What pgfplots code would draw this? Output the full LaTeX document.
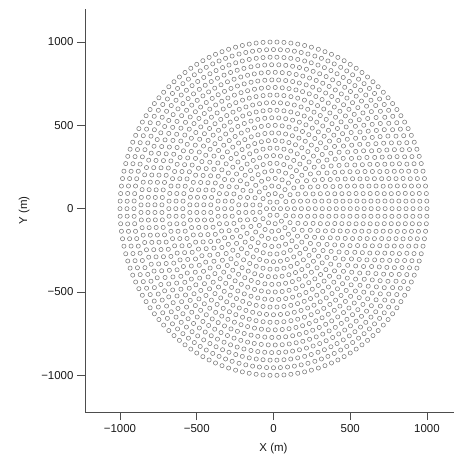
\documentclass[border=0pt]{standalone}
\usepackage{pgfplots}
\pgfplotsset{compat=1.18}
\usepackage{fontspec}
\setmainfont{Liberation Sans}
\definecolor{axgray}{HTML}{4D4D4D}
\definecolor{ptgray}{HTML}{7A7A7A}
\begin{document}
\begin{tikzpicture}
\begin{axis}[
  name=ax,
  scale only axis, width=369bp, height=403bp,
  xmin=-1228, xmax=1176, ymin=-1220, ymax=1198,
  axis x line*=bottom, axis y line*=left,
  axis line style={-, draw=axgray, line width=0.9pt},
  tick align=outside, major tick length=8bp,
  tick style={draw=axgray, line width=0.9pt},
  xtick={-1000,-500,0,500,1000}, xticklabels={−1000,−500,0,500,1000},
  ytick={-1000,-500,0,500,1000}, yticklabels={−1000,−500,0,500,1000},
  ticklabel style={font=\fontsize{11.5}{13}\selectfont, text=black!90},
  xticklabel style={yshift=-1bp},
  xlabel={X (m)}, ylabel={Y (m)},
  label style={font=\fontsize{11.5}{13}\selectfont, text=black!90},
  xlabel style={at={(axis cs:0,-1220)}, anchor=north, inner sep=0pt, yshift=-31bp},
  ylabel style={yshift=5bp},
  pts/.style={only marks, data cs=polar, mark=o, mark size=2.1pt, mark options={draw=ptgray, line width=0.55pt}},
]
\addplot[pts] coordinates {(0,0)};
\addplot[pts] coordinates {(0,45.5)(60,45.5)(120,45.5)(180,45.5)(240,45.5)(300,45.5)};
\addplot[pts] coordinates {(0,90.9)(27.7,90.9)(55.4,90.9)(83.1,90.9)(110.8,90.9)(138.5,90.9)(166.2,90.9)(193.8,90.9)(221.5,90.9)(249.2,90.9)(276.9,90.9)(304.6,90.9)(332.3,90.9)};
\addplot[pts] coordinates {(0,136.4)(18.9,136.4)(37.9,136.4)(56.8,136.4)(75.8,136.4)(94.7,136.4)(113.7,136.4)(132.6,136.4)(151.6,136.4)(170.5,136.4)(189.5,136.4)(208.4,136.4)(227.4,136.4)(246.3,136.4)(265.3,136.4)(284.2,136.4)(303.2,136.4)(322.1,136.4)(341.1,136.4)};
\addplot[pts] coordinates {(0,181.8)(14.4,181.8)(28.8,181.8)(43.2,181.8)(57.6,181.8)(72,181.8)(86.4,181.8)(100.8,181.8)(115.2,181.8)(129.6,181.8)(144,181.8)(158.4,181.8)(172.8,181.8)(187.2,181.8)(201.6,181.8)(216,181.8)(230.4,181.8)(244.8,181.8)(259.2,181.8)(273.6,181.8)(288,181.8)(302.4,181.8)(316.8,181.8)(331.2,181.8)(345.6,181.8)};
\addplot[pts] coordinates {(0,227.3)(11.6,227.3)(23.2,227.3)(34.8,227.3)(46.5,227.3)(58.1,227.3)(69.7,227.3)(81.3,227.3)(92.9,227.3)(104.5,227.3)(116.1,227.3)(127.7,227.3)(139.4,227.3)(151,227.3)(162.6,227.3)(174.2,227.3)(185.8,227.3)(197.4,227.3)(209,227.3)(220.6,227.3)(232.3,227.3)(243.9,227.3)(255.5,227.3)(267.1,227.3)(278.7,227.3)(290.3,227.3)(301.9,227.3)(313.5,227.3)(325.2,227.3)(336.8,227.3)(348.4,227.3)};
\addplot[pts] coordinates {(0,272.7)(9.5,272.7)(18.9,272.7)(28.4,272.7)(37.9,272.7)(47.4,272.7)(56.8,272.7)(66.3,272.7)(75.8,272.7)(85.3,272.7)(94.7,272.7)(104.2,272.7)(113.7,272.7)(123.2,272.7)(132.6,272.7)(142.1,272.7)(151.6,272.7)(161.1,272.7)(170.5,272.7)(180,272.7)(189.5,272.7)(198.9,272.7)(208.4,272.7)(217.9,272.7)(227.4,272.7)(236.8,272.7)(246.3,272.7)(255.8,272.7)(265.3,272.7)(274.7,272.7)(284.2,272.7)(293.7,272.7)(303.2,272.7)(312.6,272.7)(322.1,272.7)(331.6,272.7)(341.1,272.7)(350.5,272.7)};
\addplot[pts] coordinates {(0,318.2)(8.2,318.2)(16.4,318.2)(24.5,318.2)(32.7,318.2)(40.9,318.2)(49.1,318.2)(57.3,318.2)(65.5,318.2)(73.6,318.2)(81.8,318.2)(90,318.2)(98.2,318.2)(106.4,318.2)(114.5,318.2)(122.7,318.2)(130.9,318.2)(139.1,318.2)(147.3,318.2)(155.5,318.2)(163.6,318.2)(171.8,318.2)(180,318.2)(188.2,318.2)(196.4,318.2)(204.5,318.2)(212.7,318.2)(220.9,318.2)(229.1,318.2)(237.3,318.2)(245.5,318.2)(253.6,318.2)(261.8,318.2)(270,318.2)(278.2,318.2)(286.4,318.2)(294.5,318.2)(302.7,318.2)(310.9,318.2)(319.1,318.2)(327.3,318.2)(335.5,318.2)(343.6,318.2)(351.8,318.2)};
\addplot[pts] coordinates {(0,363.6)(7.2,363.6)(14.4,363.6)(21.6,363.6)(28.8,363.6)(36,363.6)(43.2,363.6)(50.4,363.6)(57.6,363.6)(64.8,363.6)(72,363.6)(79.2,363.6)(86.4,363.6)(93.6,363.6)(100.8,363.6)(108,363.6)(115.2,363.6)(122.4,363.6)(129.6,363.6)(136.8,363.6)(144,363.6)(151.2,363.6)(158.4,363.6)(165.6,363.6)(172.8,363.6)(180,363.6)(187.2,363.6)(194.4,363.6)(201.6,363.6)(208.8,363.6)(216,363.6)(223.2,363.6)(230.4,363.6)(237.6,363.6)(244.8,363.6)(252,363.6)(259.2,363.6)(266.4,363.6)(273.6,363.6)(280.8,363.6)(288,363.6)(295.2,363.6)(302.4,363.6)(309.6,363.6)(316.8,363.6)(324,363.6)(331.2,363.6)(338.4,363.6)(345.6,363.6)(352.8,363.6)};
\addplot[pts] coordinates {(0,409.1)(6.3,409.1)(12.6,409.1)(18.9,409.1)(25.3,409.1)(31.6,409.1)(37.9,409.1)(44.2,409.1)(50.5,409.1)(56.8,409.1)(63.2,409.1)(69.5,409.1)(75.8,409.1)(82.1,409.1)(88.4,409.1)(94.7,409.1)(101.1,409.1)(107.4,409.1)(113.7,409.1)(120,409.1)(126.3,409.1)(132.6,409.1)(138.9,409.1)(145.3,409.1)(151.6,409.1)(157.9,409.1)(164.2,409.1)(170.5,409.1)(176.8,409.1)(183.2,409.1)(189.5,409.1)(195.8,409.1)(202.1,409.1)(208.4,409.1)(214.7,409.1)(221.1,409.1)(227.4,409.1)(233.7,409.1)(240,409.1)(246.3,409.1)(252.6,409.1)(258.9,409.1)(265.3,409.1)(271.6,409.1)(277.9,409.1)(284.2,409.1)(290.5,409.1)(296.8,409.1)(303.2,409.1)(309.5,409.1)(315.8,409.1)(322.1,409.1)(328.4,409.1)(334.7,409.1)(341.1,409.1)(347.4,409.1)(353.7,409.1)};
\addplot[pts] coordinates {(0,454.5)(5.7,454.5)(11.4,454.5)(17.1,454.5)(22.9,454.5)(28.6,454.5)(34.3,454.5)(40,454.5)(45.7,454.5)(51.4,454.5)(57.1,454.5)(62.9,454.5)(68.6,454.5)(74.3,454.5)(80,454.5)(85.7,454.5)(91.4,454.5)(97.1,454.5)(102.9,454.5)(108.6,454.5)(114.3,454.5)(120,454.5)(125.7,454.5)(131.4,454.5)(137.1,454.5)(142.9,454.5)(148.6,454.5)(154.3,454.5)(160,454.5)(165.7,454.5)(171.4,454.5)(177.1,454.5)(182.9,454.5)(188.6,454.5)(194.3,454.5)(200,454.5)(205.7,454.5)(211.4,454.5)(217.1,454.5)(222.9,454.5)(228.6,454.5)(234.3,454.5)(240,454.5)(245.7,454.5)(251.4,454.5)(257.1,454.5)(262.9,454.5)(268.6,454.5)(274.3,454.5)(280,454.5)(285.7,454.5)(291.4,454.5)(297.1,454.5)(302.9,454.5)(308.6,454.5)(314.3,454.5)(320,454.5)(325.7,454.5)(331.4,454.5)(337.1,454.5)(342.9,454.5)(348.6,454.5)(354.3,454.5)};
\addplot[pts] coordinates {(0,500)(5.2,500)(10.4,500)(15.7,500)(20.9,500)(26.1,500)(31.3,500)(36.5,500)(41.7,500)(47,500)(52.2,500)(57.4,500)(62.6,500)(67.8,500)(73,500)(78.3,500)(83.5,500)(88.7,500)(93.9,500)(99.1,500)(104.3,500)(109.6,500)(114.8,500)(120,500)(125.2,500)(130.4,500)(135.7,500)(140.9,500)(146.1,500)(151.3,500)(156.5,500)(161.7,500)(167,500)(172.2,500)(177.4,500)(182.6,500)(187.8,500)(193,500)(198.3,500)(203.5,500)(208.7,500)(213.9,500)(219.1,500)(224.3,500)(229.6,500)(234.8,500)(240,500)(245.2,500)(250.4,500)(255.7,500)(260.9,500)(266.1,500)(271.3,500)(276.5,500)(281.7,500)(287,500)(292.2,500)(297.4,500)(302.6,500)(307.8,500)(313,500)(318.3,500)(323.5,500)(328.7,500)(333.9,500)(339.1,500)(344.3,500)(349.6,500)(354.8,500)};
\addplot[pts] coordinates {(0,545.5)(4.8,545.5)(9.6,545.5)(14.4,545.5)(19.2,545.5)(24,545.5)(28.8,545.5)(33.6,545.5)(38.4,545.5)(43.2,545.5)(48,545.5)(52.8,545.5)(57.6,545.5)(62.4,545.5)(67.2,545.5)(72,545.5)(76.8,545.5)(81.6,545.5)(86.4,545.5)(91.2,545.5)(96,545.5)(100.8,545.5)(105.6,545.5)(110.4,545.5)(115.2,545.5)(120,545.5)(124.8,545.5)(129.6,545.5)(134.4,545.5)(139.2,545.5)(144,545.5)(148.8,545.5)(153.6,545.5)(158.4,545.5)(163.2,545.5)(168,545.5)(172.8,545.5)(177.6,545.5)(182.4,545.5)(187.2,545.5)(192,545.5)(196.8,545.5)(201.6,545.5)(206.4,545.5)(211.2,545.5)(216,545.5)(220.8,545.5)(225.6,545.5)(230.4,545.5)(235.2,545.5)(240,545.5)(244.8,545.5)(249.6,545.5)(254.4,545.5)(259.2,545.5)(264,545.5)(268.8,545.5)(273.6,545.5)(278.4,545.5)(283.2,545.5)(288,545.5)(292.8,545.5)(297.6,545.5)(302.4,545.5)(307.2,545.5)(312,545.5)(316.8,545.5)(321.6,545.5)(326.4,545.5)(331.2,545.5)(336,545.5)(340.8,545.5)(345.6,545.5)(350.4,545.5)(355.2,545.5)};
\addplot[pts] coordinates {(0,590.9)(4.4,590.9)(8.8,590.9)(13.2,590.9)(17.6,590.9)(22,590.9)(26.3,590.9)(30.7,590.9)(35.1,590.9)(39.5,590.9)(43.9,590.9)(48.3,590.9)(52.7,590.9)(57.1,590.9)(61.5,590.9)(65.9,590.9)(70.2,590.9)(74.6,590.9)(79,590.9)(83.4,590.9)(87.8,590.9)(92.2,590.9)(96.6,590.9)(101,590.9)(105.4,590.9)(109.8,590.9)(114.1,590.9)(118.5,590.9)(122.9,590.9)(127.3,590.9)(131.7,590.9)(136.1,590.9)(140.5,590.9)(144.9,590.9)(149.3,590.9)(153.7,590.9)(158,590.9)(162.4,590.9)(166.8,590.9)(171.2,590.9)(175.6,590.9)(180,590.9)(184.4,590.9)(188.8,590.9)(193.2,590.9)(197.6,590.9)(202,590.9)(206.3,590.9)(210.7,590.9)(215.1,590.9)(219.5,590.9)(223.9,590.9)(228.3,590.9)(232.7,590.9)(237.1,590.9)(241.5,590.9)(245.9,590.9)(250.2,590.9)(254.6,590.9)(259,590.9)(263.4,590.9)(267.8,590.9)(272.2,590.9)(276.6,590.9)(281,590.9)(285.4,590.9)(289.8,590.9)(294.1,590.9)(298.5,590.9)(302.9,590.9)(307.3,590.9)(311.7,590.9)(316.1,590.9)(320.5,590.9)(324.9,590.9)(329.3,590.9)(333.7,590.9)(338,590.9)(342.4,590.9)(346.8,590.9)(351.2,590.9)(355.6,590.9)};
\addplot[pts] coordinates {(0,636.4)(4.1,636.4)(8.2,636.4)(12.3,636.4)(16.4,636.4)(20.5,636.4)(24.5,636.4)(28.6,636.4)(32.7,636.4)(36.8,636.4)(40.9,636.4)(45,636.4)(49.1,636.4)(53.2,636.4)(57.3,636.4)(61.4,636.4)(65.5,636.4)(69.5,636.4)(73.6,636.4)(77.7,636.4)(81.8,636.4)(85.9,636.4)(90,636.4)(94.1,636.4)(98.2,636.4)(102.3,636.4)(106.4,636.4)(110.5,636.4)(114.5,636.4)(118.6,636.4)(122.7,636.4)(126.8,636.4)(130.9,636.4)(135,636.4)(139.1,636.4)(143.2,636.4)(147.3,636.4)(151.4,636.4)(155.5,636.4)(159.5,636.4)(163.6,636.4)(167.7,636.4)(171.8,636.4)(175.9,636.4)(180,636.4)(184.1,636.4)(188.2,636.4)(192.3,636.4)(196.4,636.4)(200.5,636.4)(204.5,636.4)(208.6,636.4)(212.7,636.4)(216.8,636.4)(220.9,636.4)(225,636.4)(229.1,636.4)(233.2,636.4)(237.3,636.4)(241.4,636.4)(245.5,636.4)(249.5,636.4)(253.6,636.4)(257.7,636.4)(261.8,636.4)(265.9,636.4)(270,636.4)(274.1,636.4)(278.2,636.4)(282.3,636.4)(286.4,636.4)(290.5,636.4)(294.5,636.4)(298.6,636.4)(302.7,636.4)(306.8,636.4)(310.9,636.4)(315,636.4)(319.1,636.4)(323.2,636.4)(327.3,636.4)(331.4,636.4)(335.5,636.4)(339.5,636.4)(343.6,636.4)(347.7,636.4)(351.8,636.4)(355.9,636.4)};
\addplot[pts] coordinates {(0,681.8)(3.8,681.8)(7.7,681.8)(11.5,681.8)(15.3,681.8)(19.1,681.8)(23,681.8)(26.8,681.8)(30.6,681.8)(34.5,681.8)(38.3,681.8)(42.1,681.8)(46,681.8)(49.8,681.8)(53.6,681.8)(57.4,681.8)(61.3,681.8)(65.1,681.8)(68.9,681.8)(72.8,681.8)(76.6,681.8)(80.4,681.8)(84.3,681.8)(88.1,681.8)(91.9,681.8)(95.7,681.8)(99.6,681.8)(103.4,681.8)(107.2,681.8)(111.1,681.8)(114.9,681.8)(118.7,681.8)(122.6,681.8)(126.4,681.8)(130.2,681.8)(134,681.8)(137.9,681.8)(141.7,681.8)(145.5,681.8)(149.4,681.8)(153.2,681.8)(157,681.8)(160.9,681.8)(164.7,681.8)(168.5,681.8)(172.3,681.8)(176.2,681.8)(180,681.8)(183.8,681.8)(187.7,681.8)(191.5,681.8)(195.3,681.8)(199.1,681.8)(203,681.8)(206.8,681.8)(210.6,681.8)(214.5,681.8)(218.3,681.8)(222.1,681.8)(226,681.8)(229.8,681.8)(233.6,681.8)(237.4,681.8)(241.3,681.8)(245.1,681.8)(248.9,681.8)(252.8,681.8)(256.6,681.8)(260.4,681.8)(264.3,681.8)(268.1,681.8)(271.9,681.8)(275.7,681.8)(279.6,681.8)(283.4,681.8)(287.2,681.8)(291.1,681.8)(294.9,681.8)(298.7,681.8)(302.6,681.8)(306.4,681.8)(310.2,681.8)(314,681.8)(317.9,681.8)(321.7,681.8)(325.5,681.8)(329.4,681.8)(333.2,681.8)(337,681.8)(340.9,681.8)(344.7,681.8)(348.5,681.8)(352.3,681.8)(356.2,681.8)};
\addplot[pts] coordinates {(0,727.3)(3.6,727.3)(7.1,727.3)(10.7,727.3)(14.3,727.3)(17.8,727.3)(21.4,727.3)(25,727.3)(28.5,727.3)(32.1,727.3)(35.6,727.3)(39.2,727.3)(42.8,727.3)(46.3,727.3)(49.9,727.3)(53.5,727.3)(57,727.3)(60.6,727.3)(64.2,727.3)(67.7,727.3)(71.3,727.3)(74.9,727.3)(78.4,727.3)(82,727.3)(85.5,727.3)(89.1,727.3)(92.7,727.3)(96.2,727.3)(99.8,727.3)(103.4,727.3)(106.9,727.3)(110.5,727.3)(114.1,727.3)(117.6,727.3)(121.2,727.3)(124.8,727.3)(128.3,727.3)(131.9,727.3)(135.4,727.3)(139,727.3)(142.6,727.3)(146.1,727.3)(149.7,727.3)(153.3,727.3)(156.8,727.3)(160.4,727.3)(164,727.3)(167.5,727.3)(171.1,727.3)(174.7,727.3)(178.2,727.3)(181.8,727.3)(185.3,727.3)(188.9,727.3)(192.5,727.3)(196,727.3)(199.6,727.3)(203.2,727.3)(206.7,727.3)(210.3,727.3)(213.9,727.3)(217.4,727.3)(221,727.3)(224.6,727.3)(228.1,727.3)(231.7,727.3)(235.2,727.3)(238.8,727.3)(242.4,727.3)(245.9,727.3)(249.5,727.3)(253.1,727.3)(256.6,727.3)(260.2,727.3)(263.8,727.3)(267.3,727.3)(270.9,727.3)(274.5,727.3)(278,727.3)(281.6,727.3)(285.1,727.3)(288.7,727.3)(292.3,727.3)(295.8,727.3)(299.4,727.3)(303,727.3)(306.5,727.3)(310.1,727.3)(313.7,727.3)(317.2,727.3)(320.8,727.3)(324.4,727.3)(327.9,727.3)(331.5,727.3)(335,727.3)(338.6,727.3)(342.2,727.3)(345.7,727.3)(349.3,727.3)(352.9,727.3)(356.4,727.3)};
\addplot[pts] coordinates {(0,772.7)(3.4,772.7)(6.7,772.7)(10.1,772.7)(13.5,772.7)(16.8,772.7)(20.2,772.7)(23.6,772.7)(26.9,772.7)(30.3,772.7)(33.6,772.7)(37,772.7)(40.4,772.7)(43.7,772.7)(47.1,772.7)(50.5,772.7)(53.8,772.7)(57.2,772.7)(60.6,772.7)(63.9,772.7)(67.3,772.7)(70.7,772.7)(74,772.7)(77.4,772.7)(80.7,772.7)(84.1,772.7)(87.5,772.7)(90.8,772.7)(94.2,772.7)(97.6,772.7)(100.9,772.7)(104.3,772.7)(107.7,772.7)(111,772.7)(114.4,772.7)(117.8,772.7)(121.1,772.7)(124.5,772.7)(127.9,772.7)(131.2,772.7)(134.6,772.7)(137.9,772.7)(141.3,772.7)(144.7,772.7)(148,772.7)(151.4,772.7)(154.8,772.7)(158.1,772.7)(161.5,772.7)(164.9,772.7)(168.2,772.7)(171.6,772.7)(175,772.7)(178.3,772.7)(181.7,772.7)(185,772.7)(188.4,772.7)(191.8,772.7)(195.1,772.7)(198.5,772.7)(201.9,772.7)(205.2,772.7)(208.6,772.7)(212,772.7)(215.3,772.7)(218.7,772.7)(222.1,772.7)(225.4,772.7)(228.8,772.7)(232.1,772.7)(235.5,772.7)(238.9,772.7)(242.2,772.7)(245.6,772.7)(249,772.7)(252.3,772.7)(255.7,772.7)(259.1,772.7)(262.4,772.7)(265.8,772.7)(269.2,772.7)(272.5,772.7)(275.9,772.7)(279.3,772.7)(282.6,772.7)(286,772.7)(289.3,772.7)(292.7,772.7)(296.1,772.7)(299.4,772.7)(302.8,772.7)(306.2,772.7)(309.5,772.7)(312.9,772.7)(316.3,772.7)(319.6,772.7)(323,772.7)(326.4,772.7)(329.7,772.7)(333.1,772.7)(336.4,772.7)(339.8,772.7)(343.2,772.7)(346.5,772.7)(349.9,772.7)(353.3,772.7)(356.6,772.7)};
\addplot[pts] coordinates {(0,818.2)(3.2,818.2)(6.4,818.2)(9.6,818.2)(12.7,818.2)(15.9,818.2)(19.1,818.2)(22.3,818.2)(25.5,818.2)(28.7,818.2)(31.9,818.2)(35,818.2)(38.2,818.2)(41.4,818.2)(44.6,818.2)(47.8,818.2)(51,818.2)(54.2,818.2)(57.3,818.2)(60.5,818.2)(63.7,818.2)(66.9,818.2)(70.1,818.2)(73.3,818.2)(76.5,818.2)(79.6,818.2)(82.8,818.2)(86,818.2)(89.2,818.2)(92.4,818.2)(95.6,818.2)(98.8,818.2)(101.9,818.2)(105.1,818.2)(108.3,818.2)(111.5,818.2)(114.7,818.2)(117.9,818.2)(121.1,818.2)(124.2,818.2)(127.4,818.2)(130.6,818.2)(133.8,818.2)(137,818.2)(140.2,818.2)(143.4,818.2)(146.5,818.2)(149.7,818.2)(152.9,818.2)(156.1,818.2)(159.3,818.2)(162.5,818.2)(165.7,818.2)(168.8,818.2)(172,818.2)(175.2,818.2)(178.4,818.2)(181.6,818.2)(184.8,818.2)(188,818.2)(191.2,818.2)(194.3,818.2)(197.5,818.2)(200.7,818.2)(203.9,818.2)(207.1,818.2)(210.3,818.2)(213.5,818.2)(216.6,818.2)(219.8,818.2)(223,818.2)(226.2,818.2)(229.4,818.2)(232.6,818.2)(235.8,818.2)(238.9,818.2)(242.1,818.2)(245.3,818.2)(248.5,818.2)(251.7,818.2)(254.9,818.2)(258.1,818.2)(261.2,818.2)(264.4,818.2)(267.6,818.2)(270.8,818.2)(274,818.2)(277.2,818.2)(280.4,818.2)(283.5,818.2)(286.7,818.2)(289.9,818.2)(293.1,818.2)(296.3,818.2)(299.5,818.2)(302.7,818.2)(305.8,818.2)(309,818.2)(312.2,818.2)(315.4,818.2)(318.6,818.2)(321.8,818.2)(325,818.2)(328.1,818.2)(331.3,818.2)(334.5,818.2)(337.7,818.2)(340.9,818.2)(344.1,818.2)(347.3,818.2)(350.4,818.2)(353.6,818.2)(356.8,818.2)};
\addplot[pts] coordinates {(0,863.6)(3,863.6)(6.1,863.6)(9.1,863.6)(12.1,863.6)(15.1,863.6)(18.2,863.6)(21.2,863.6)(24.2,863.6)(27.2,863.6)(30.3,863.6)(33.3,863.6)(36.3,863.6)(39.3,863.6)(42.4,863.6)(45.4,863.6)(48.4,863.6)(51.4,863.6)(54.5,863.6)(57.5,863.6)(60.5,863.6)(63.5,863.6)(66.6,863.6)(69.6,863.6)(72.6,863.6)(75.6,863.6)(78.7,863.6)(81.7,863.6)(84.7,863.6)(87.7,863.6)(90.8,863.6)(93.8,863.6)(96.8,863.6)(99.8,863.6)(102.9,863.6)(105.9,863.6)(108.9,863.6)(111.9,863.6)(115,863.6)(118,863.6)(121,863.6)(124,863.6)(127.1,863.6)(130.1,863.6)(133.1,863.6)(136.1,863.6)(139.2,863.6)(142.2,863.6)(145.2,863.6)(148.2,863.6)(151.3,863.6)(154.3,863.6)(157.3,863.6)(160.3,863.6)(163.4,863.6)(166.4,863.6)(169.4,863.6)(172.4,863.6)(175.5,863.6)(178.5,863.6)(181.5,863.6)(184.5,863.6)(187.6,863.6)(190.6,863.6)(193.6,863.6)(196.6,863.6)(199.7,863.6)(202.7,863.6)(205.7,863.6)(208.7,863.6)(211.8,863.6)(214.8,863.6)(217.8,863.6)(220.8,863.6)(223.9,863.6)(226.9,863.6)(229.9,863.6)(232.9,863.6)(236,863.6)(239,863.6)(242,863.6)(245,863.6)(248.1,863.6)(251.1,863.6)(254.1,863.6)(257.1,863.6)(260.2,863.6)(263.2,863.6)(266.2,863.6)(269.2,863.6)(272.3,863.6)(275.3,863.6)(278.3,863.6)(281.3,863.6)(284.4,863.6)(287.4,863.6)(290.4,863.6)(293.4,863.6)(296.5,863.6)(299.5,863.6)(302.5,863.6)(305.5,863.6)(308.6,863.6)(311.6,863.6)(314.6,863.6)(317.6,863.6)(320.7,863.6)(323.7,863.6)(326.7,863.6)(329.7,863.6)(332.8,863.6)(335.8,863.6)(338.8,863.6)(341.8,863.6)(344.9,863.6)(347.9,863.6)(350.9,863.6)(354,863.6)(357,863.6)};
\addplot[pts] coordinates {(0,909.1)(2.9,909.1)(5.7,909.1)(8.6,909.1)(11.4,909.1)(14.3,909.1)(17.1,909.1)(20,909.1)(22.9,909.1)(25.7,909.1)(28.6,909.1)(31.4,909.1)(34.3,909.1)(37.1,909.1)(40,909.1)(42.9,909.1)(45.7,909.1)(48.6,909.1)(51.4,909.1)(54.3,909.1)(57.1,909.1)(60,909.1)(62.9,909.1)(65.7,909.1)(68.6,909.1)(71.4,909.1)(74.3,909.1)(77.1,909.1)(80,909.1)(82.9,909.1)(85.7,909.1)(88.6,909.1)(91.4,909.1)(94.3,909.1)(97.1,909.1)(100,909.1)(102.9,909.1)(105.7,909.1)(108.6,909.1)(111.4,909.1)(114.3,909.1)(117.1,909.1)(120,909.1)(122.9,909.1)(125.7,909.1)(128.6,909.1)(131.4,909.1)(134.3,909.1)(137.1,909.1)(140,909.1)(142.9,909.1)(145.7,909.1)(148.6,909.1)(151.4,909.1)(154.3,909.1)(157.1,909.1)(160,909.1)(162.9,909.1)(165.7,909.1)(168.6,909.1)(171.4,909.1)(174.3,909.1)(177.1,909.1)(180,909.1)(182.9,909.1)(185.7,909.1)(188.6,909.1)(191.4,909.1)(194.3,909.1)(197.1,909.1)(200,909.1)(202.9,909.1)(205.7,909.1)(208.6,909.1)(211.4,909.1)(214.3,909.1)(217.1,909.1)(220,909.1)(222.9,909.1)(225.7,909.1)(228.6,909.1)(231.4,909.1)(234.3,909.1)(237.1,909.1)(240,909.1)(242.9,909.1)(245.7,909.1)(248.6,909.1)(251.4,909.1)(254.3,909.1)(257.1,909.1)(260,909.1)(262.9,909.1)(265.7,909.1)(268.6,909.1)(271.4,909.1)(274.3,909.1)(277.1,909.1)(280,909.1)(282.9,909.1)(285.7,909.1)(288.6,909.1)(291.4,909.1)(294.3,909.1)(297.1,909.1)(300,909.1)(302.9,909.1)(305.7,909.1)(308.6,909.1)(311.4,909.1)(314.3,909.1)(317.1,909.1)(320,909.1)(322.9,909.1)(325.7,909.1)(328.6,909.1)(331.4,909.1)(334.3,909.1)(337.1,909.1)(340,909.1)(342.9,909.1)(345.7,909.1)(348.6,909.1)(351.4,909.1)(354.3,909.1)(357.1,909.1)};
\addplot[pts] coordinates {(0,954.5)(2.7,954.5)(5.5,954.5)(8.2,954.5)(10.9,954.5)(13.6,954.5)(16.4,954.5)(19.1,954.5)(21.8,954.5)(24.5,954.5)(27.3,954.5)(30,954.5)(32.7,954.5)(35.5,954.5)(38.2,954.5)(40.9,954.5)(43.6,954.5)(46.4,954.5)(49.1,954.5)(51.8,954.5)(54.5,954.5)(57.3,954.5)(60,954.5)(62.7,954.5)(65.5,954.5)(68.2,954.5)(70.9,954.5)(73.6,954.5)(76.4,954.5)(79.1,954.5)(81.8,954.5)(84.5,954.5)(87.3,954.5)(90,954.5)(92.7,954.5)(95.5,954.5)(98.2,954.5)(100.9,954.5)(103.6,954.5)(106.4,954.5)(109.1,954.5)(111.8,954.5)(114.5,954.5)(117.3,954.5)(120,954.5)(122.7,954.5)(125.5,954.5)(128.2,954.5)(130.9,954.5)(133.6,954.5)(136.4,954.5)(139.1,954.5)(141.8,954.5)(144.5,954.5)(147.3,954.5)(150,954.5)(152.7,954.5)(155.5,954.5)(158.2,954.5)(160.9,954.5)(163.6,954.5)(166.4,954.5)(169.1,954.5)(171.8,954.5)(174.5,954.5)(177.3,954.5)(180,954.5)(182.7,954.5)(185.5,954.5)(188.2,954.5)(190.9,954.5)(193.6,954.5)(196.4,954.5)(199.1,954.5)(201.8,954.5)(204.5,954.5)(207.3,954.5)(210,954.5)(212.7,954.5)(215.5,954.5)(218.2,954.5)(220.9,954.5)(223.6,954.5)(226.4,954.5)(229.1,954.5)(231.8,954.5)(234.5,954.5)(237.3,954.5)(240,954.5)(242.7,954.5)(245.5,954.5)(248.2,954.5)(250.9,954.5)(253.6,954.5)(256.4,954.5)(259.1,954.5)(261.8,954.5)(264.5,954.5)(267.3,954.5)(270,954.5)(272.7,954.5)(275.5,954.5)(278.2,954.5)(280.9,954.5)(283.6,954.5)(286.4,954.5)(289.1,954.5)(291.8,954.5)(294.5,954.5)(297.3,954.5)(300,954.5)(302.7,954.5)(305.5,954.5)(308.2,954.5)(310.9,954.5)(313.6,954.5)(316.4,954.5)(319.1,954.5)(321.8,954.5)(324.5,954.5)(327.3,954.5)(330,954.5)(332.7,954.5)(335.5,954.5)(338.2,954.5)(340.9,954.5)(343.6,954.5)(346.4,954.5)(349.1,954.5)(351.8,954.5)(354.5,954.5)(357.3,954.5)};
\addplot[pts] coordinates {(0,1000)(2.6,1000)(5.2,1000)(7.8,1000)(10.4,1000)(13,1000)(15.7,1000)(18.3,1000)(20.9,1000)(23.5,1000)(26.1,1000)(28.7,1000)(31.3,1000)(33.9,1000)(36.5,1000)(39.1,1000)(41.7,1000)(44.3,1000)(47,1000)(49.6,1000)(52.2,1000)(54.8,1000)(57.4,1000)(60,1000)(62.6,1000)(65.2,1000)(67.8,1000)(70.4,1000)(73,1000)(75.7,1000)(78.3,1000)(80.9,1000)(83.5,1000)(86.1,1000)(88.7,1000)(91.3,1000)(93.9,1000)(96.5,1000)(99.1,1000)(101.7,1000)(104.3,1000)(107,1000)(109.6,1000)(112.2,1000)(114.8,1000)(117.4,1000)(120,1000)(122.6,1000)(125.2,1000)(127.8,1000)(130.4,1000)(133,1000)(135.7,1000)(138.3,1000)(140.9,1000)(143.5,1000)(146.1,1000)(148.7,1000)(151.3,1000)(153.9,1000)(156.5,1000)(159.1,1000)(161.7,1000)(164.3,1000)(167,1000)(169.6,1000)(172.2,1000)(174.8,1000)(177.4,1000)(180,1000)(182.6,1000)(185.2,1000)(187.8,1000)(190.4,1000)(193,1000)(195.7,1000)(198.3,1000)(200.9,1000)(203.5,1000)(206.1,1000)(208.7,1000)(211.3,1000)(213.9,1000)(216.5,1000)(219.1,1000)(221.7,1000)(224.3,1000)(227,1000)(229.6,1000)(232.2,1000)(234.8,1000)(237.4,1000)(240,1000)(242.6,1000)(245.2,1000)(247.8,1000)(250.4,1000)(253,1000)(255.7,1000)(258.3,1000)(260.9,1000)(263.5,1000)(266.1,1000)(268.7,1000)(271.3,1000)(273.9,1000)(276.5,1000)(279.1,1000)(281.7,1000)(284.3,1000)(287,1000)(289.6,1000)(292.2,1000)(294.8,1000)(297.4,1000)(300,1000)(302.6,1000)(305.2,1000)(307.8,1000)(310.4,1000)(313,1000)(315.7,1000)(318.3,1000)(320.9,1000)(323.5,1000)(326.1,1000)(328.7,1000)(331.3,1000)(333.9,1000)(336.5,1000)(339.1,1000)(341.7,1000)(344.3,1000)(347,1000)(349.6,1000)(352.2,1000)(354.8,1000)(357.4,1000)};
\end{axis}
\path ([xshift=-85bp,yshift=-45bp]ax.south west) rectangle ([yshift=9bp]ax.north east);
\end{tikzpicture}
\end{document}
